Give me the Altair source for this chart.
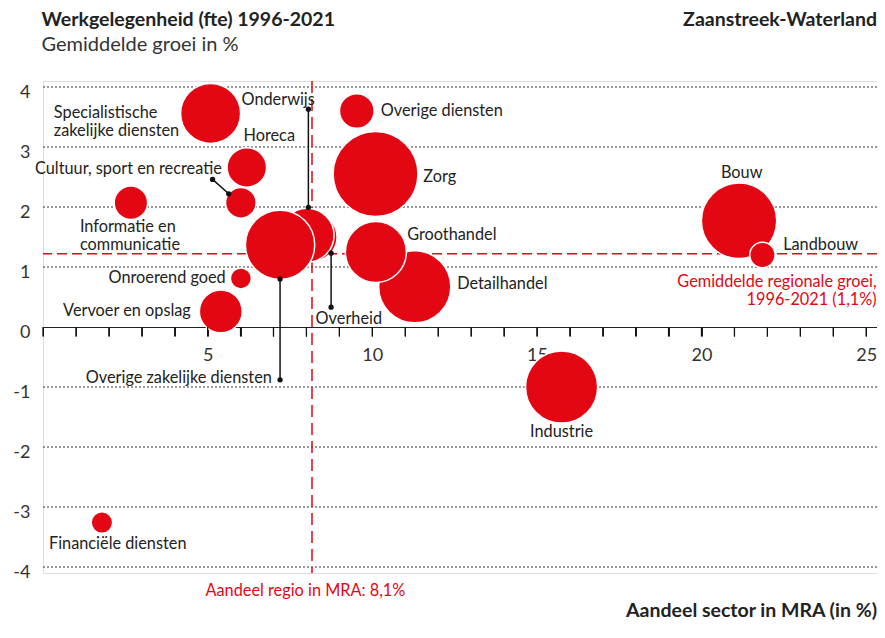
import altair as alt
import pandas as pd

RED = "#e30613"
INK = "#222222"
FONT = "Lato"

# ---- data ----
sectors = [
    "Financiële diensten", "Informatie en communicatie", "Specialistische zakelijke diensten",
    "Vervoer en opslag", "Horeca", "Cultuur, sport en recreatie", "Onroerend goed",
    "Overheid", "Onderwijs", "Overige zakelijke diensten", "Overige diensten", "Zorg",
    "Detailhandel", "Groothandel", "Industrie", "Bouw", "Landbouw",
]
share_mra = [1.79, 2.67, 5.09, 5.40, 6.19, 6.01, 6.01, 8.20, 8.02, 7.20, 9.53, 10.10,
             11.29, 10.11, 15.75, 21.14, 21.85]
growth = [-3.26, 2.07, 3.56, 0.26, 2.66, 2.07, 0.81, 1.50, 1.53, 1.37, 3.60, 2.55,
          0.67, 1.25, -1.00, 1.77, 1.20]
fte = [1150, 2800, 9000, 4600, 3900, 2350, 1100, 5800, 7300, 12000, 3000, 18000,
       13000, 9300, 13000, 14200, 1600]

regional_growth = 1.22
regional_share = 8.17
y_ticks = [4, 3, 2, 1, 0, -1, -2, -3, -4]
grid_vals = [4, 3, 2, 1, -1, -2, -3, -4]
x_ticks = [float(v) for v in range(0, 26)]

# label texts and anchors (data units; y = first line)
lab_text = [
    "Specialistische\nzakelijke diensten", "Onderwijs", "Horeca", "Informatie en\ncommunicatie",
    "Overheid", "Overige diensten", "Zorg", "Groothandel", "Detailhandel", "Landbouw",
    "Cultuur, sport en recreatie", "Onroerend goed", "Vervoer en opslag",
    "Overige zakelijke diensten", "Gemiddelde regionale groei,\n1996-2021 (1,1%)",
    "Financiële diensten", "Industrie", "Bouw", "Aandeel regio in MRA: 8,1%",
]
lab_x = [0.33, 6.03, 6.09, 1.12, 8.28, 10.26, 11.55, 11.06, 12.58, 22.48,
         5.43, 5.55, 4.49, 6.95, 25.32, 2.27, 15.75, 21.22, 7.97]
lab_y = [3.57, 3.78, 3.18, 1.66, 0.13, 3.60, 2.50, 1.53, 0.71, 1.37,
         2.63, 0.81, 0.27, -0.85, 0.755, -3.62, -1.745, 2.57, -4.395]
lab_align = ["left"] * 10 + ["right"] * 5 + ["center"] * 4
lab_color = [INK] * 14 + [RED] + [INK] * 3 + [RED]

# leader lines
lead_x = [8.06, 8.75, 5.15, 7.20]
lead_y = [3.63, 1.23, 2.46, 0.80]
lead_x2 = [8.06, 8.75, 5.64, 7.20]
lead_y2 = [1.995, 0.33, 2.22, -0.88]

# ---- tables ----
bub = pd.DataFrame({"sector": sectors, "share": share_mra, "growth": growth,
                    "fte": fte, "idx": list(range(len(sectors)))})
labs = pd.DataFrame({"t": lab_text, "x": lab_x, "y": lab_y, "a": lab_align, "c": lab_color})
# leader lines + x-axis tick marks share one rule table
seg_x = lead_x + x_ticks
seg_x2 = lead_x2 + x_ticks
seg_y = lead_y + [0.0] * len(x_ticks)
seg_y2 = lead_y2 + [-0.16] * len(x_ticks)
seg_w = [1.5] * len(lead_x) + [1.3] * len(x_ticks)
segs = pd.DataFrame({"x": seg_x, "y": seg_y, "x2": seg_x2, "y2": seg_y2, "w": seg_w})
dots = pd.DataFrame({"x": lead_x + lead_x2, "y": lead_y + lead_y2})

W, H = 834, 492
xs = alt.Scale(domain=[0, 25.33], nice=False, zero=False)
ys = alt.Scale(domain=[-4.1, 4.1], nice=False, zero=False)

AX_X = alt.Axis(
    values=x_ticks, orient="bottom", offset=-H / 2, domain=True, domainColor=INK,
    domainWidth=1, ticks=True, tickSize=9, tickColor=INK, tickWidth=1, grid=False,
    labelExpr="datum.value % 5 == 0 && datum.value > 0 ? datum.value : ''",
    labelFont=FONT, labelFontSize=18, labelColor="#333333", labelPadding=10,
    labelOverlap=False, title=None)
AX_Y = alt.Axis(
    values=y_ticks, orient="left", domain=False, ticks=False, tickSize=0, grid=False,
    labelExpr="'' + datum.value", labelFont=FONT, labelFontSize=18,
    labelColor="#333333", labelPadding=13, labelOffset=5, title=None)


def X(f):
    return alt.X(f, scale=xs, axis=AX_X)


def Y(f):
    return alt.Y(f, scale=ys, axis=AX_Y)


grid = alt.Chart(pd.DataFrame({"g": grid_vals})).mark_rule(
    color="#333333", strokeWidth=1, strokeDash=[2, 2]
).encode(y=Y("g:Q"))

base_axes = alt.Chart(pd.DataFrame({"v": [0]})).mark_point(opacity=0).encode(
    x=X("v:Q"), y=Y("v:Q"))

hline = alt.Chart(pd.DataFrame({"v": [regional_growth]})).mark_rule(
    color=RED, strokeWidth=1.5, strokeDash=[10, 5]
).encode(y=Y("v:Q"))
vline = alt.Chart(pd.DataFrame({"v": [regional_share]})).mark_rule(
    color=RED, strokeWidth=1.5, strokeDash=[12, 6]
).encode(x=X("v:Q"))

bubbles = alt.Chart(bub).mark_circle(
    color=RED, opacity=1, stroke="white", strokeWidth=1.5
).encode(
    x=X("share:Q"),
    y=Y("growth:Q"),
    size=alt.Size("fte:Q", scale=alt.Scale(domain=[0, 18000], range=[0, 7200]),
                  legend=None),
    order=alt.Order("idx:Q"),
)

segments = alt.Chart(segs).mark_rule(color="#111111").encode(
    x=X("x:Q"), y=Y("y:Q"), x2="x2:Q", y2="y2:Q",
    strokeWidth=alt.StrokeWidth("w:Q", scale=None),
)
leader_dots = alt.Chart(dots).mark_circle(color="#111111", opacity=1, size=28).encode(
    x=X("x:Q"), y=Y("y:Q"),
)

text_layers = []
for a in ["left", "right", "center"]:
    text_layers.append(
        alt.Chart(labs[labs.a == a]).mark_text(
            align=a, baseline="middle", font=FONT, fontSize=16.3, lineBreak="\n",
            lineHeight=18,
        ).encode(
            x=X("x:Q"), y=Y("y:Q"),
            text="t:N", color=alt.Color("c:N", scale=None),
        )
    )


def title_text(txt, x, y, align, weight, size, color):
    return alt.Chart(pd.DataFrame({"t": [txt]})).mark_text(
        align=align, baseline="middle", font=FONT, fontSize=size, fontWeight=weight,
        color=color,
    ).encode(x=alt.value(x), y=alt.value(y), text="t:N")


titles = [
    title_text("Werkgelegenheid (fte) 1996-2021", -1.5, -61, "left", "bold", 19.5, INK),
    title_text("Gemiddelde groei in %", -1.5, -36, "left", "normal", 20, "#333333"),
    title_text("Zaanstreek-Waterland", 834, -61, "right", "bold", 19.5, INK),
    title_text("Aandeel sector in MRA (in %)", 834, 530, "right", "bold", 19.5, INK),
]

chart = alt.layer(
    grid, hline, vline, base_axes, bubbles, segments, leader_dots,
    *text_layers, *titles
).properties(
    width=W, height=H, autosize="none",
    padding={"left": 35, "top": 73, "right": 0, "bottom": 51},
).configure_view(stroke=None).configure(background="white")

chart.save("out.html", embed_options={"renderer": "svg", "actions": False})
